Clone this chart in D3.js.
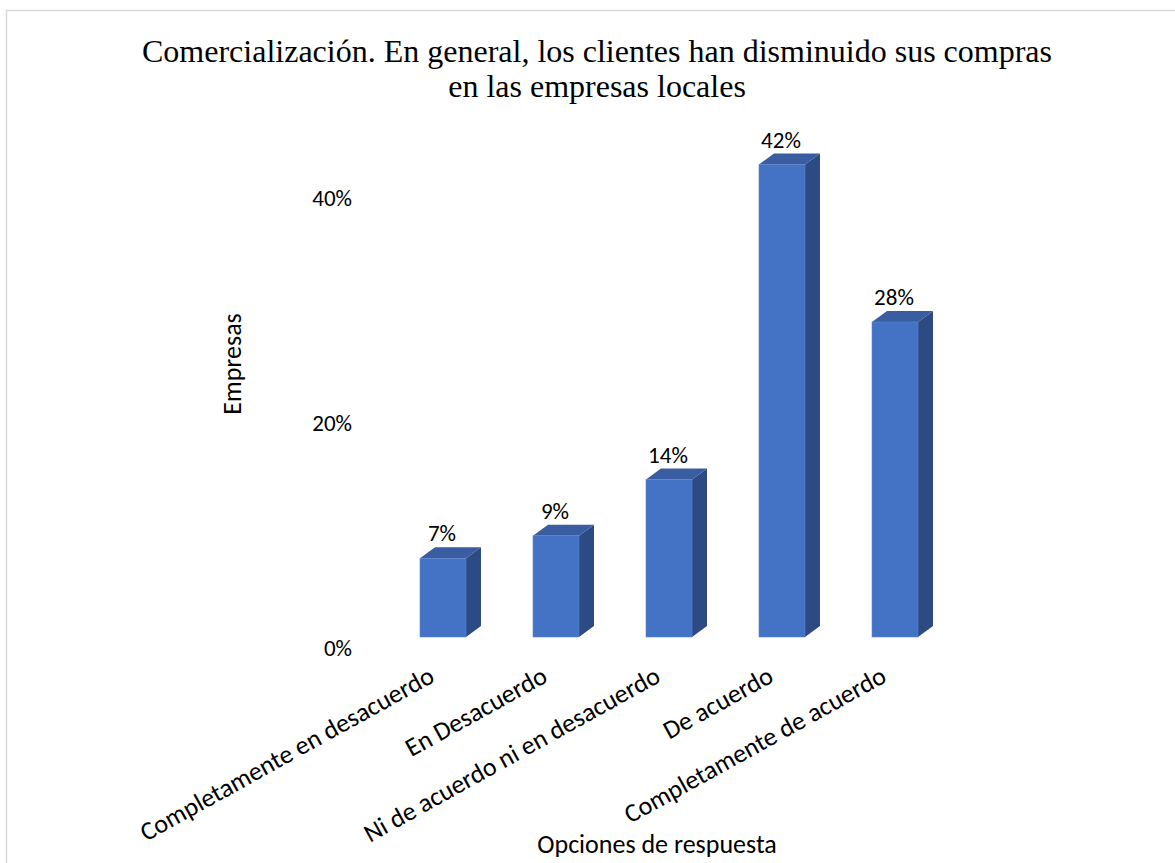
<!DOCTYPE html>
<html>
<head>
<meta charset="utf-8">
<script src="https://cdn.jsdelivr.net/npm/d3@7"></script>
<style>
  html, body { margin: 0; padding: 0; background: #fff; }
  svg { display: block; }
</style>
</head>
<body>
<svg id="chart" width="1175" height="863"></svg>
<script>
// Survey answers and the share of companies choosing each one (%)
const categories = [
  "Completamente en desacuerdo",
  "En Desacuerdo",
  "Ni de acuerdo ni en desacuerdo",
  "De acuerdo",
  "Completamente de acuerdo"
];
const values = [7, 9, 14, 42, 28];
const tickValues = [0, 20, 40];
const titleLines = [
  "Comercialización. En general, los clientes han disminuido sus compras",
  "en las empresas locales"
];

const W = 1175, H = 863;
const sansFont = "Calibri, Carlito, Lato, 'Open Sans', sans-serif";
const serifFont = "'Times New Roman', 'Liberation Serif', serif";

const svg = d3.select("#chart");

// chart frame
svg.append("rect")
  .attr("x", 6.5).attr("y", 10.5)
  .attr("width", W + 20).attr("height", H + 20)
  .attr("fill", "#fff")
  .attr("stroke", "#d9d9d9").attr("stroke-width", 1.5);

// scales
const x = d3.scalePoint().domain(categories).range([386.5, 951.5]).padding(0.5);
const y = d3.scaleLinear().domain([0, 40]).range([637, 187]);

const barW = 46;     // front face width
const depthX = 15;   // 3D depth offsets
const depthY = 11;

// title
const title = svg.append("text")
  .attr("text-anchor", "middle")
  .attr("font-family", serifFont)
  .attr("font-size", 32)
  .attr("fill", "#000");
titleLines.forEach((t, i) => {
  title.append("tspan").attr("x", 597).attr("y", 62 + i * 35).text(t);
});

// y axis tick labels (sit on the back wall of the 3D plot)
svg.append("g")
  .selectAll("text")
  .data(tickValues)
  .join("text")
  .attr("x", 352)
  .attr("y", d => y(d) + depthY)
  .attr("dy", "0.35em")
  .attr("text-anchor", "end")
  .attr("font-family", sansFont)
  .attr("font-size", 23)
  .attr("fill", "#000")
  .text(d => d + "%");

// y axis title
svg.append("text")
  .attr("transform", "translate(241,364) rotate(-90)")
  .attr("text-anchor", "middle")
  .attr("font-family", sansFont)
  .attr("font-size", 26)
  .attr("fill", "#000")
  .text("Empresas");

// 3D bars
const bars = svg.append("g").selectAll("g")
  .data(categories.map((c, i) => ({ c, v: values[i] })))
  .join("g");

bars.each(function(d) {
  const g = d3.select(this);
  const x0 = x(d.c) - barW / 2, x1 = x0 + barW;
  const yt = y(d.v), yb = y(0);
  // side face
  g.append("path")
    .attr("d", `M${x1},${yt} L${x1 + depthX},${yt - depthY} L${x1 + depthX},${yb - depthY} L${x1},${yb} Z`)
    .attr("fill", "#2c4b82");
  // top face
  g.append("path")
    .attr("d", `M${x0},${yt} L${x0 + depthX},${yt - depthY} L${x1 + depthX},${yt - depthY} L${x1},${yt} Z`)
    .attr("fill", "#3a5da2");
  // front face
  g.append("rect")
    .attr("x", x0).attr("y", yt)
    .attr("width", barW).attr("height", yb - yt)
    .attr("fill", "#4472c4")
    .attr("stroke", "#5b84cf").attr("stroke-width", 0.6);
  // value label
  g.append("text")
    .attr("x", x(d.c) - 1)
    .attr("y", yt - depthY - 6)
    .attr("text-anchor", "middle")
    .attr("font-family", sansFont)
    .attr("font-size", 23)
    .attr("fill", "#000")
    .text(d.v + "%");
});

// category labels, rotated
svg.append("g")
  .selectAll("text")
  .data(categories)
  .join("text")
  .attr("transform", d => `translate(${x(d) - 7},${y(0) + 44}) rotate(-29)`)
  .attr("text-anchor", "end")
  .attr("font-family", sansFont)
  .attr("font-size", 26)
  .attr("fill", "#000")
  .text(d => d);

// x axis title
svg.append("text")
  .attr("x", 657).attr("y", 853)
  .attr("text-anchor", "middle")
  .attr("font-family", sansFont)
  .attr("font-size", 26)
  .attr("fill", "#000")
  .text("Opciones de respuesta");
</script>
</body>
</html>
